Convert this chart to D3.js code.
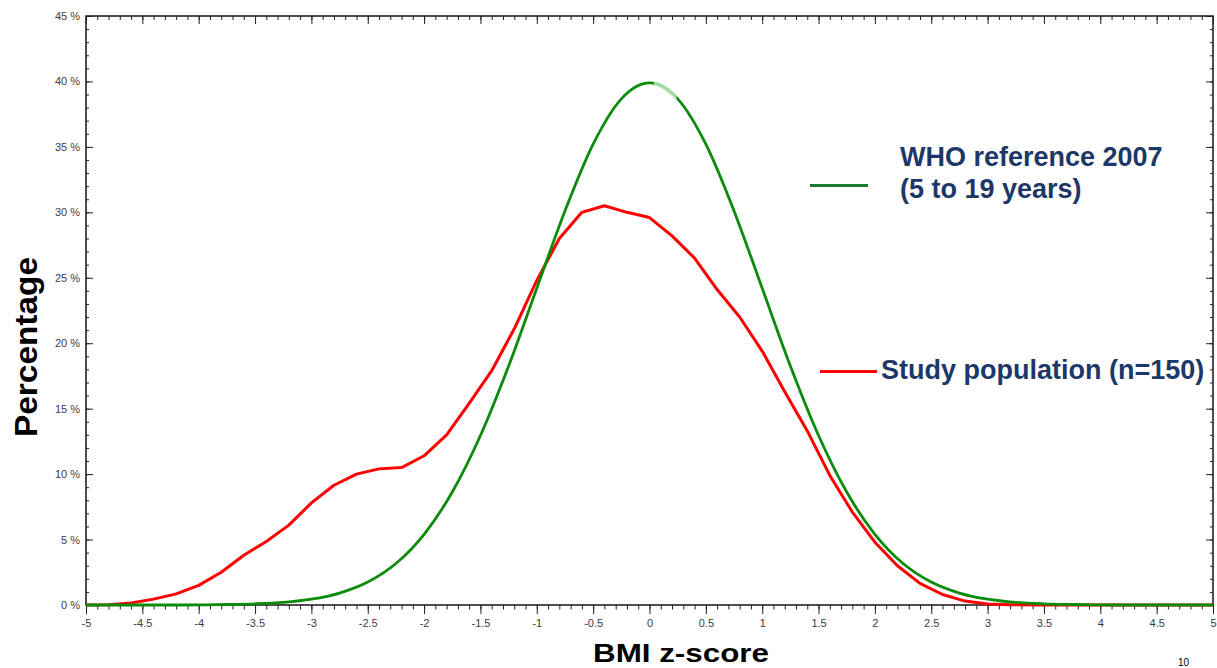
<!DOCTYPE html>
<html>
<head>
<meta charset="utf-8">
<script src="https://d3js.org/d3.v7.min.js"></script>
<style>
  body { margin: 0; background: #fff; }
  svg { display: block; font-family: "Liberation Sans", Arial, sans-serif; }
  .tick text { fill: #3b3b48; font-size: 11px; }
</style>
</head>
<body>
<script>
// z-score positions and percentages
var whoZ   = [-5, -4.75, -4.5, -4.25, -4, -3.75, -3.5, -3.25, -3, -2.75, -2.5, -2.25, -2, -1.75, -1.5, -1.25, -1, -0.75, -0.5, -0.25,
              0, 0.25, 0.5, 0.75, 1, 1.25, 1.5, 1.75, 2, 2.25, 2.5, 2.75, 3, 3.25, 3.5, 3.75, 4, 4.25, 4.5, 4.75, 5];
var whoPct = [0, 0, 0, 0, 0.01, 0.04, 0.09, 0.2, 0.44, 0.91, 1.75, 3.17, 5.4, 8.63, 12.95, 18.26, 24.2, 30.11, 35.21, 38.67,
              39.89, 38.67, 35.21, 30.11, 24.2, 18.26, 12.95, 8.63, 5.4, 3.17, 1.75, 0.91, 0.44, 0.2, 0.09, 0.04, 0.01, 0, 0, 0, 0];

var studyZ   = [-5, -4.8, -4.6, -4.4, -4.2, -4, -3.8, -3.6, -3.4, -3.2, -3, -2.8, -2.6, -2.4, -2.2, -2, -1.8, -1.6, -1.4, -1.2, -1,
                -0.8, -0.6, -0.4, -0.2, 0, 0.2, 0.4, 0.6, 0.8, 1, 1.2, 1.4, 1.6, 1.8, 2, 2.2, 2.4, 2.6, 2.8, 3, 3.2, 3.5, 5];
var studyPct = [0, 0.02, 0.15, 0.45, 0.85, 1.5, 2.5, 3.8, 4.85, 6.1, 7.8, 9.15, 10.0, 10.4, 10.5, 11.4, 13.0, 15.4, 17.9, 21.1, 24.8,
                28.0, 30.0, 30.5, 30.0, 29.6, 28.2, 26.5, 24.1, 22.0, 19.4, 16.3, 13.3, 9.9, 7.1, 4.8, 3.0, 1.65, 0.8, 0.3, 0.08, 0.02, 0, 0];

var xTicks = [-5, -4.5, -4, -3.5, -3, -2.5, -2, -1.5, -1, -0.5, 0, 0.5, 1, 1.5, 2, 2.5, 3, 3.5, 4, 4.5, 5];
var yTicks = [0, 5, 10, 15, 20, 25, 30, 35, 40, 45];

var legendWho = ["WHO reference 2007", "(5 to 19 years)"];
var legendStudy = "Study population (n=150)";

var W = 1217, H = 668;
var margin = {top: 16, right: 4, bottom: 63, left: 86};
var width = W - margin.left - margin.right,
    height = H - margin.top - margin.bottom;

var svg = d3.select("body").append("svg")
    .attr("width", W)
    .attr("height", H);

var g = svg.append("g")
    .attr("transform", "translate(" + margin.left + "," + margin.top + ")");

var x = d3.scaleLinear().domain([-5, 5]).range([0, width]);
var y = d3.scaleLinear().domain([0, 45]).range([height, 0]);

var xMinor = d3.range(-50, 51).map(function(d) { return d / 10; });
var yMinor = d3.range(0, 46);

function clean(sel) { sel.select(".domain").remove(); sel.selectAll("line").attr("stroke", "#222"); }

// bottom axis (ticks outward)
g.append("g").attr("transform", "translate(0," + height + ")")
    .call(d3.axisBottom(x).tickValues(xMinor).tickSize(4.5).tickFormat(""))
    .call(clean);
g.append("g").attr("transform", "translate(0," + height + ")")
    .call(d3.axisBottom(x).tickValues(xTicks).tickSize(9).tickPadding(5).tickFormat(function(d) { return String(d); }))
    .call(clean);

// top axis (ticks inward)
g.append("g")
    .call(d3.axisTop(x).tickValues(xMinor).tickSize(-4).tickFormat(""))
    .call(clean);
g.append("g")
    .call(d3.axisTop(x).tickValues(xTicks).tickSize(-8).tickFormat(""))
    .call(clean);

// left axis
g.append("g")
    .call(d3.axisLeft(y).tickValues(yMinor).tickSize(-3).tickFormat(""))
    .call(clean);
g.append("g")
    .call(d3.axisLeft(y).tickValues(yTicks).tickSize(-7).tickPadding(6).tickFormat(function(d) { return d + " %"; }))
    .call(clean);

// right axis
g.append("g").attr("transform", "translate(" + width + ",0)")
    .call(d3.axisRight(y).tickValues(yMinor).tickSize(-3).tickFormat(""))
    .call(clean);
g.append("g").attr("transform", "translate(" + width + ",0)")
    .call(d3.axisRight(y).tickValues(yTicks).tickSize(-7).tickFormat(""))
    .call(clean);

// frame
g.append("rect")
    .attr("x", 0).attr("y", 0)
    .attr("width", width).attr("height", height)
    .attr("fill", "none")
    .attr("stroke", "#222")
    .attr("stroke-width", 1.6);

// curves
var study = studyZ.map(function(z, i) { return {z: z, p: studyPct[i]}; });
var who = whoZ.map(function(z, i) { return {z: z, p: whoPct[i]}; });

var line = d3.line()
    .x(function(d) { return x(d.z); })
    .y(function(d) { return y(d.p); });

g.append("path")
    .datum(study)
    .attr("fill", "none")
    .attr("stroke", "#ff0000")
    .attr("stroke-width", 3)
    .attr("stroke-linejoin", "round")
    .attr("d", line.curve(d3.curveLinear));

var whoPath = line.curve(d3.curveMonotoneX)(who);

g.append("path")
    .attr("fill", "none")
    .attr("stroke", "#0a8c0a")
    .attr("stroke-width", 2.8)
    .attr("d", whoPath);

// faded bit near the top of the reference curve
g.append("clipPath").attr("id", "fade")
  .append("rect")
    .attr("x", x(0.04)).attr("y", 0)
    .attr("width", x(0.24) - x(0.04)).attr("height", height);

g.append("path")
    .attr("clip-path", "url(#fade)")
    .attr("fill", "none")
    .attr("stroke", "#a6dca6")
    .attr("stroke-width", 3.2)
    .attr("d", whoPath);

// legend
var navy = "#1d3868";
svg.append("line")
    .attr("x1", 810).attr("x2", 868).attr("y1", 185.5).attr("y2", 185.5)
    .attr("stroke", "#1e7a2c").attr("stroke-width", 3);
svg.selectAll(".lw").data(legendWho).enter().append("text")
    .attr("x", 900)
    .attr("y", function(d, i) { return 166 + i * 32; })
    .attr("fill", navy)
    .attr("font-size", 27)
    .attr("font-weight", "bold")
    .text(function(d) { return d; });

svg.append("line")
    .attr("x1", 820).attr("x2", 877).attr("y1", 371.5).attr("y2", 371.5)
    .attr("stroke", "#ff0000").attr("stroke-width", 3);
svg.append("text")
    .attr("x", 881)
    .attr("y", 379)
    .attr("fill", navy)
    .attr("font-size", 27)
    .attr("font-weight", "bold")
    .text(legendStudy);

// axis titles
svg.append("text")
    .attr("x", 681)
    .attr("y", 662)
    .attr("text-anchor", "middle")
    .attr("font-size", 25)
    .attr("font-weight", "bold")
    .attr("fill", "#000")
    .attr("textLength", 176)
    .attr("lengthAdjust", "spacingAndGlyphs")
    .text("BMI z-score");

svg.append("text")
    .attr("transform", "translate(37,347) rotate(-90)")
    .attr("text-anchor", "middle")
    .attr("font-size", 31)
    .attr("font-weight", "bold")
    .attr("fill", "#000")
    .attr("textLength", 180)
    .attr("lengthAdjust", "spacingAndGlyphs")
    .text("Percentage");

// page number in the bottom corner
svg.append("text")
    .attr("x", 1178)
    .attr("y", 666)
    .attr("font-size", 10)
    .attr("fill", "#000")
    .text("10");
</script>
</body>
</html>
